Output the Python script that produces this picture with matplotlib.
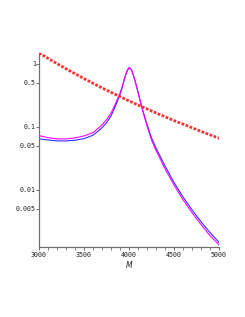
import matplotlib
matplotlib.use("Agg")
import matplotlib.pyplot as plt
from matplotlib.ticker import FixedLocator, MultipleLocator, NullLocator

# ---- data ----
M_red = [3000, 3100, 3200, 3300, 3400, 3500, 3600, 3700, 3800, 3900, 4000,
         4100, 4200, 4300, 4400, 4500, 4600, 4700, 4800, 4900, 5000]
red_vals = [1.50, 1.23, 1.01, 0.84, 0.70, 0.586, 0.493, 0.417, 0.355, 0.303, 0.259,
            0.223, 0.193, 0.167, 0.145, 0.126, 0.111, 0.097, 0.085, 0.075, 0.066]

M_curve = [3000, 3100, 3200, 3300, 3400, 3500, 3600, 3650, 3700, 3750, 3800, 3850, 3900,
           3925, 3950, 3975, 4000, 4025, 4050, 4075, 4100, 4125, 4150, 4200, 4250,
           4300, 4400, 4500, 4600, 4700, 4800, 4900, 5000]
magenta_vals = [0.0728, 0.0676, 0.0645, 0.0645, 0.067, 0.072, 0.081, 0.093, 0.108, 0.13, 0.165,
                0.235, 0.345, 0.44, 0.59, 0.76, 0.88, 0.82, 0.65, 0.49, 0.355, 0.255, 0.185,
                0.104, 0.062, 0.0425, 0.0217, 0.01196, 0.00701, 0.00436, 0.00283, 0.00188,
                0.00134]
blue_vals = [0.0645, 0.0622, 0.060, 0.060, 0.0615, 0.0652, 0.0738, 0.084, 0.097, 0.116, 0.149,
             0.215, 0.325, 0.425, 0.58, 0.75, 0.87, 0.815, 0.65, 0.495, 0.36, 0.26, 0.19,
             0.11, 0.067, 0.0464, 0.0240, 0.01315, 0.00774, 0.00482, 0.00313, 0.0021,
             0.00147]

y_ticks = [1, 0.5, 0.1, 0.05, 0.01, 0.005]
y_ticklabels = ["1", "0.5", "0.1", "0.05", "0.01", "0.005"]
x_ticks = [3000, 3500, 4000, 4500, 5000]
x_ticklabels = ["3000", "3500", "4000", "4500", "5000"]
x_label = "M"

fig = plt.figure(figsize=(2.45, 3.17), dpi=100)
ax = fig.add_axes([39/245, 1 - 247/317, 180/245, (247 - 52.5)/317])

ax.plot(M_curve, blue_vals, color="#3030ff", lw=0.8, zorder=2)
ax.plot(M_curve, magenta_vals, color="#ff00ff", lw=0.8, zorder=3)
ax.plot(M_red, red_vals, color="#ff3030", lw=2.0, linestyle=(0, (1, 0.55)),
        dash_capstyle="butt", zorder=4)

ax.set_yscale("log")
ax.set_xlim(3000, 5000)
ax.set_ylim(0.00124, 1.52)

ax.yaxis.set_major_locator(FixedLocator(y_ticks))
ax.yaxis.set_minor_locator(NullLocator())
ax.set_yticklabels(y_ticklabels)
ax.set_xticks(x_ticks)
ax.set_xticklabels(x_ticklabels)
ax.xaxis.set_minor_locator(MultipleLocator(100))

for s in ("top", "right"):
    ax.spines[s].set_visible(False)
for s in ("left", "bottom"):
    ax.spines[s].set_color("#707070")
    ax.spines[s].set_linewidth(0.9)

ax.tick_params(axis="y", which="major", length=2, width=0.6, color="#505050", pad=0.3,
               labelsize=4.8, labelcolor="#202020")
ax.tick_params(axis="x", which="major", length=2.2, width=0.6, color="#505050", pad=1.5,
               labelsize=4.8, labelcolor="#202020")
ax.tick_params(axis="x", which="minor", length=1.8, width=0.5, color="#505050")
for lab in ax.get_xticklabels() + ax.get_yticklabels():
    lab.set_fontfamily("DejaVu Sans Mono")

ax.set_xlabel(x_label, fontsize=5.5, style="italic", labelpad=2.0, color="#202020")

fig.savefig("out.png", dpi=100)
